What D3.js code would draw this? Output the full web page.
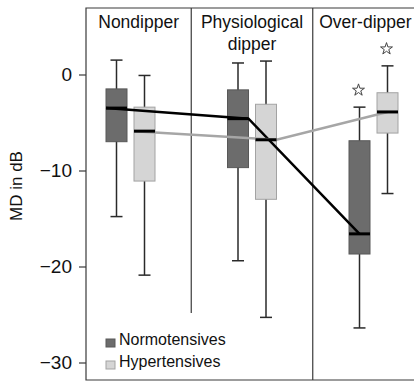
<!DOCTYPE html>
<html>
<head>
<meta charset="utf-8">
<script src="https://cdn.jsdelivr.net/npm/d3@7"></script>
<style>
  body { margin: 0; background: #fff; }
  svg { display: block; font-family: "Liberation Sans", Arial, sans-serif; }
</style>
</head>
<body>
<script>
// groups and box statistics (MD in dB)
const groups = [["Nondipper"], ["Physiological", "dipper"], ["Over-dipper"]];
const normotensives = [
  { min: -14.8, q1: -7.0, med: -3.5, q3: -1.5, max: 1.5, sig: false },
  { min: -19.4, q1: -9.7, med: -4.6, q3: -1.6, max: 1.2, sig: false },
  { min: -26.4, q1: -18.7, med: -16.6, q3: -6.9, max: -3.4, sig: true }
];
const hypertensives = [
  { min: -20.9, q1: -11.1, med: -5.9, q3: -3.4, max: -0.1, sig: false },
  { min: -25.3, q1: -13.0, med: -6.8, q3: -3.1, max: 1.4, sig: false },
  { min: -12.4, q1: -6.1, med: -3.9, q3: -1.9, max: 0.9, sig: true }
];
const yTicks = [0, -10, -20, -30];
const legendItems = ["Normotensives", "Hypertensives"];

const W = 414, H = 381;
const frame = { left: 86, top: 8, right: 418, bottom: 380 };

const svg = d3.select("body").append("svg")
  .attr("width", W).attr("height", H);

const y = d3.scaleLinear().domain([-30, 0]).range([362.5, 74.5]);
const x = d3.scaleLinear().domain([0, 2]).range([130.5, 373.5]);
const off = 14, bw = 21, cap = 12;

const series = [
  { data: normotensives, dx: -off, fill: "#6c6c6c", stroke: "#585858", line: "#000", anchors: [-1, 1, 0] },
  { data: hypertensives, dx: off, fill: "#d5d5d5", stroke: "#a3a3a3", line: "#a6a6a6", anchors: [-1, 1, 0] }
];

// frame
svg.append("path")
  .attr("d", `M${frame.right},${frame.top}H${frame.left}V${frame.bottom}H${frame.right}`)
  .attr("fill", "none").attr("stroke", "#3a3a3a").attr("stroke-width", 1.2);

// group dividers
const edges = [frame.left, x(0.5), x(1.5), frame.right];
svg.append("line")
  .attr("x1", edges[1]).attr("x2", edges[1])
  .attr("y1", frame.top).attr("y2", 313)
  .attr("stroke", "#3a3a3a").attr("stroke-width", 1.2);
svg.append("line")
  .attr("x1", edges[2]).attr("x2", edges[2])
  .attr("y1", frame.top).attr("y2", frame.bottom)
  .attr("stroke", "#3a3a3a").attr("stroke-width", 1.2);

// y axis
const yAxis = svg.append("g")
  .attr("transform", `translate(${frame.left},0)`)
  .call(d3.axisLeft(y).tickValues(yTicks).tickSize(7).tickPadding(7));
yAxis.select(".domain").remove();
yAxis.selectAll(".tick line").attr("stroke", "#3a3a3a").attr("stroke-width", 1.2);
yAxis.selectAll(".tick text")
  .attr("font-size", 19).attr("fill", "#111")
  .attr("font-family", "Liberation Sans, Arial, sans-serif");

svg.append("text")
  .attr("transform", `translate(22,186) rotate(-90)`)
  .attr("text-anchor", "middle")
  .attr("font-size", 17).attr("fill", "#111")
  .text("MD in dB");

// group labels
groups.forEach((lines, i) => {
  const cx = (edges[i] + edges[i + 1]) / 2;
  svg.append("text")
    .attr("x", cx).attr("y", 28)
    .attr("text-anchor", "middle")
    .attr("font-size", 17.5).attr("fill", "#111")
    .selectAll("tspan").data(lines).join("tspan")
    .attr("x", cx).attr("dy", (d, j) => j ? 22 : 0)
    .text(d => d);
});

// boxes
series.forEach(s => {
  const g = svg.append("g");
  const bx = (d, i) => x(i) + s.dx;
  g.selectAll(".whisker").data(s.data).join("line")
    .attr("x1", bx).attr("x2", bx)
    .attr("y1", d => y(d.max)).attr("y2", d => y(d.min))
    .attr("stroke", "#2a2a2a").attr("stroke-width", 1.5);
  g.selectAll(".capT").data(s.data).join("line")
    .attr("x1", (d, i) => bx(d, i) - cap / 2).attr("x2", (d, i) => bx(d, i) + cap / 2)
    .attr("y1", d => y(d.max)).attr("y2", d => y(d.max))
    .attr("stroke", "#2a2a2a").attr("stroke-width", 1.5);
  g.selectAll(".capB").data(s.data).join("line")
    .attr("x1", (d, i) => bx(d, i) - cap / 2).attr("x2", (d, i) => bx(d, i) + cap / 2)
    .attr("y1", d => y(d.min)).attr("y2", d => y(d.min))
    .attr("stroke", "#2a2a2a").attr("stroke-width", 1.5);
  g.selectAll("rect").data(s.data).join("rect")
    .attr("x", (d, i) => bx(d, i) - bw / 2).attr("width", bw)
    .attr("y", d => y(d.q3)).attr("height", d => y(d.q1) - y(d.q3))
    .attr("fill", s.fill).attr("stroke", s.stroke).attr("stroke-width", 1);
});

// median connecting lines
series.forEach(s => {
  const pts = s.data.map((d, i) => [x(i) + s.dx + s.anchors[i] * bw / 2, y(d.med)]);
  svg.append("path")
    .attr("d", d3.line()(pts))
    .attr("fill", "none").attr("stroke", s.line).attr("stroke-width", 2.5);
});

// medians
series.forEach(s => {
  svg.append("g").selectAll("line").data(s.data).join("line")
    .attr("x1", (d, i) => x(i) + s.dx - bw / 2).attr("x2", (d, i) => x(i) + s.dx + bw / 2)
    .attr("y1", d => y(d.med)).attr("y2", d => y(d.med))
    .attr("stroke", "#000").attr("stroke-width", 3);
});

// significance stars
series.forEach(s => {
  svg.append("g").selectAll("path")
    .data(s.data.map((d, i) => ({ d, i })).filter(o => o.d.sig))
    .join("path")
    .attr("transform", o => `translate(${x(o.i) + s.dx - 1},${y(o.d.max) - 17})`)
    .attr("d", d3.symbol(d3.symbolStar, 44)())
    .attr("fill", "#fff").attr("stroke", "#444").attr("stroke-width", 1);
});

// legend
const legend = svg.append("g").attr("transform", "translate(106,339)");
legend.selectAll("rect").data(legendItems).join("rect")
  .attr("x", 0).attr("y", (d, i) => i * 22)
  .attr("width", 9).attr("height", 8)
  .attr("fill", (d, i) => series[i].fill)
  .attr("stroke", (d, i) => series[i].stroke);
legend.selectAll("text").data(legendItems).join("text")
  .attr("x", 13).attr("y", (d, i) => 6 + i * 22)
  .attr("font-size", 16).attr("fill", "#111")
  .text(d => d);
</script>
</body>
</html>
